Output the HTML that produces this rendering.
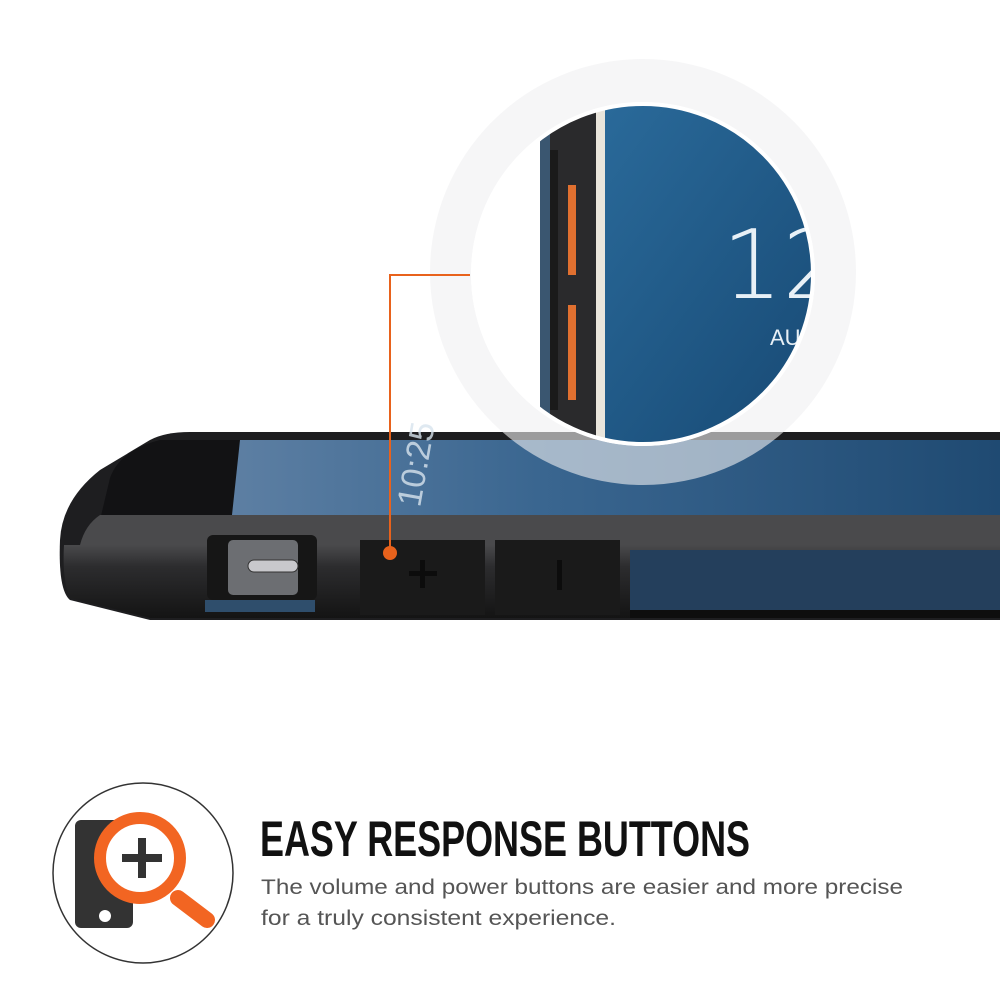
<!DOCTYPE html>
<html><head><style>
body{margin:0;background:#fff;width:1000px;height:1000px;overflow:hidden;font-family:"Liberation Sans",sans-serif}
</style></head><body>
<svg width="1000" height="1000" viewBox="0 0 1000 1000" style="position:absolute;left:0;top:0">
<defs>
<linearGradient id="scr" x1="0" y1="0" x2="1" y2="0">
<stop offset="0" stop-color="#5d7fa3"/><stop offset="0.4" stop-color="#3a6690"/><stop offset="1" stop-color="#1f4a72"/></linearGradient>
<linearGradient id="zs" x1="0" y1="0" x2="1" y2="1">
<stop offset="0" stop-color="#2a6a9a"/><stop offset="1" stop-color="#15456f"/></linearGradient>
<linearGradient id="side" x1="0" y1="0" x2="0" y2="1">
<stop offset="0" stop-color="#4a4a4c"/><stop offset="0.3" stop-color="#2c2c2e"/><stop offset="1" stop-color="#141414"/></linearGradient>
<clipPath id="zc"><circle cx="643" cy="274" r="170"/></clipPath>
</defs>
<!-- phone body -->
<path d="M60 540 Q62 500 100 470 L150 440 Q165 432 190 432 L1000 432 L1000 620 L150 620 L70 600 Q58 590 60 540 Z" fill="#1e1e20"/>
<path d="M110 478 Q120 450 160 440 L1000 440 L1000 520 L100 520 Z" fill="#121214"/>
<path d="M240 440 L1000 440 L1000 515 L232 515 Z" fill="url(#scr)"/>
<path d="M100 515 L1000 515 L1000 545 L80 545 Q85 525 100 515Z" fill="#4a4a4c"/>
<path d="M64 545 L1000 545 L1000 618 L150 618 L70 598 Q62 580 64 545Z" fill="url(#side)"/>
<rect x="207" y="535" width="110" height="65" rx="6" fill="#161616"/>
<rect x="228" y="540" width="70" height="55" rx="5" fill="#6c6e72"/>
<rect x="248" y="560" width="50" height="12" rx="6" fill="#c8c8cc" stroke="#333" stroke-width="1"/>
<rect x="205" y="600" width="110" height="12" fill="#2f4e6c"/>
<rect x="360" y="540" width="125" height="75" fill="#1a1a1a"/>
<rect x="495" y="540" width="125" height="75" fill="#1a1a1a"/>
<rect x="630" y="550" width="370" height="60" fill="#243f5c"/>
<rect x="630" y="610" width="370" height="8" fill="#0e0e0e"/>
<rect x="420" y="560" width="5" height="28" fill="#0c0c0c"/>
<rect x="409" y="571" width="28" height="5" fill="#0c0c0c"/>
<rect x="557" y="560" width="5" height="30" fill="#0c0c0c"/>
<text font-size="34" fill="#d8e4ee" opacity="0.8" transform="translate(420,508) rotate(-80)">10:25</text>
<!-- halo -->
<circle cx="643" cy="272" r="213" fill="#f0f0f2" opacity="0.6"/>
<circle cx="643" cy="274" r="172" fill="#ffffff"/>
<g clip-path="url(#zc)">
<rect x="460" y="100" width="400" height="360" fill="#fff"/>
<rect x="605" y="100" width="260" height="360" fill="url(#zs)"/>
<rect x="596" y="100" width="9" height="360" fill="#e9e5dc"/>
<rect x="540" y="100" width="56" height="360" fill="#2a2a2c"/>
<rect x="546" y="150" width="12" height="260" fill="#1a1a1a"/>
<rect x="568" y="185" width="8" height="90" fill="#e07030"/>
<rect x="568" y="305" width="8" height="95" fill="#e07030"/>
<rect x="540" y="120" width="10" height="320" fill="#3a5670"/>
<text x="722" y="298" font-size="95" fill="#e8f0f6" style="font-family:'DejaVu Sans'" font-weight="100">12</text>
<text x="770" y="345" font-size="22" fill="#e8f0f6">AU</text>
</g>
<circle cx="643" cy="274" r="170" fill="none" stroke="#fff" stroke-width="4"/>
<!-- callout -->
<polyline points="390,553 390,275 470,275" fill="none" stroke="#e8621c" stroke-width="2"/>
<circle cx="390" cy="553" r="7" fill="#e8621c"/>
<!-- icon -->
<circle cx="143" cy="873" r="90" fill="#fff" stroke="#333" stroke-width="1.5"/>
<rect x="75" y="820" width="58" height="108" rx="6" fill="#333"/>
<circle cx="105" cy="916" r="6" fill="#fff"/>
<line x1="178" y1="898" x2="207" y2="920" stroke="#f26522" stroke-width="16" stroke-linecap="round"/>
<circle cx="140" cy="858" r="40" fill="#fff" stroke="#f26522" stroke-width="12"/>
<rect x="122" y="854" width="40" height="8" fill="#333"/>
<rect x="138" y="838" width="8" height="40" fill="#333"/>
<text x="260" y="856" font-size="50" font-weight="bold" fill="#111" textLength="490" lengthAdjust="spacingAndGlyphs">EASY RESPONSE BUTTONS</text>
<text x="261" y="894" font-size="21" fill="#555" textLength="642" lengthAdjust="spacingAndGlyphs">The volume and power buttons are easier and more precise</text>
<text x="261" y="925" font-size="21" fill="#555" textLength="355" lengthAdjust="spacingAndGlyphs">for a truly consistent experience.</text>
</svg>
</body></html>
